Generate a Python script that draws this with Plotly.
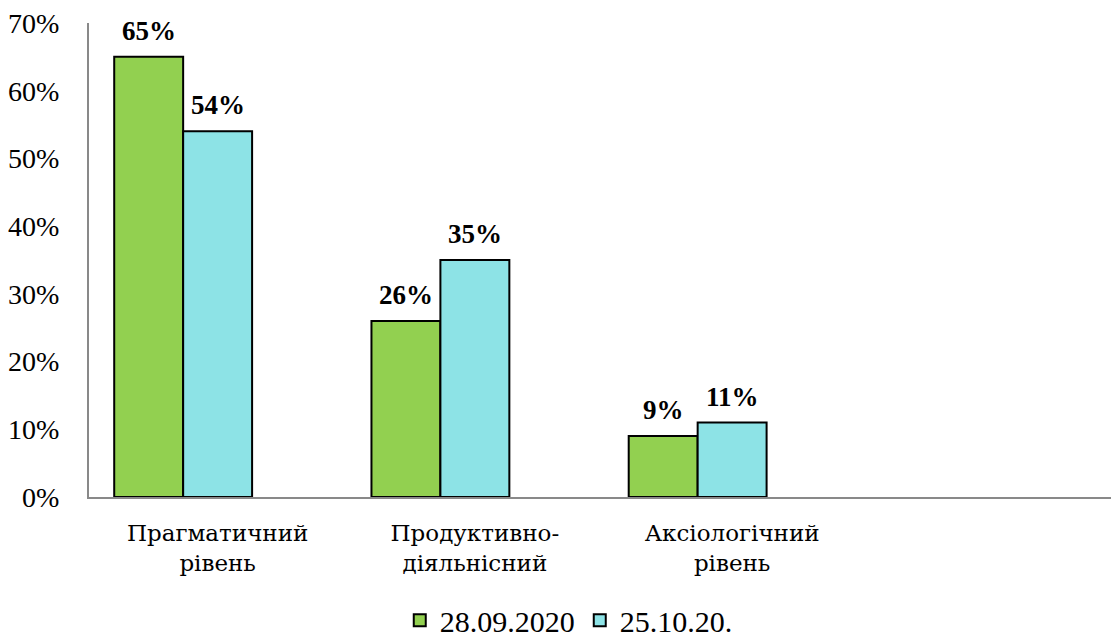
import plotly.graph_objects as go

categories = ["Прагматичний<br>рівень", "Продуктивно-<br>діяльнісний", "Аксіологічний<br>рівень", " "]
series1_name = "28.09.2020"
series2_name = "25.10.20."
series1 = [0.65, 0.26, 0.09]
series2 = [0.54, 0.35, 0.11]
y_ticks = [0, 0.1, 0.2, 0.3, 0.4, 0.5, 0.6, 0.7]

w = 0.268
font = "Liberation Serif, DejaVu Serif, serif"
cyr_font = "DejaVu Serif"
plot_w = 1111 - 81 - 1
slot_px = plot_w / len(categories)

fig = go.Figure()
for vals, name, color, off in [(series1, series1_name, "#92D050", -1.5 * w),
                               (series2, series2_name, "#8DE3E6", -0.5 * w)]:
    fig.add_trace(go.Bar(
        x=categories[:3], y=vals, name=name,
        marker=dict(color=color, line=dict(color="black", width=2)),
        width=w, offset=off,
    ))
    for c, v in zip(categories[:3], vals):
        fig.add_annotation(
            x=c, y=v, text="<b>%d%%</b>" % round(v * 100), showarrow=False,
            xshift=(off + w / 2) * slot_px, yshift=9, yanchor="bottom",
            font=dict(family=font, size=27, color="black"),
        )

fig.update_layout(
    width=1111, height=629,
    margin=dict(l=81, r=1, t=15, b=140, autoexpand=False),
    plot_bgcolor="white", paper_bgcolor="white",
    font=dict(family=font, size=28, color="black"),
    showlegend=True,
    legend=dict(orientation="h", x=0.302, xanchor="left", y=-0.205, yanchor="top",
                font=dict(family=font, size=30, color="black"), itemwidth=30,
                tracegroupgap=0),
    xaxis=dict(type="category", categoryorder="array", categoryarray=categories,
               range=[-0.5, 3.5], showline=True, linecolor="#898989", linewidth=2,
               ticks="", showgrid=False, ticklabelstandoff=14, automargin=False,
               tickfont=dict(family=cyr_font, size=23)),
    yaxis=dict(range=[0, 0.7], tickvals=y_ticks, tickformat=".0%",
               showline=True, linecolor="#898989", linewidth=2, automargin=False,
               showgrid=False, zeroline=False, ticks="", ticklabelstandoff=22,
               ticklabeloverflow="allow",
               tickfont=dict(family=font, size=28)),
)

fig.write_html("out.html")
